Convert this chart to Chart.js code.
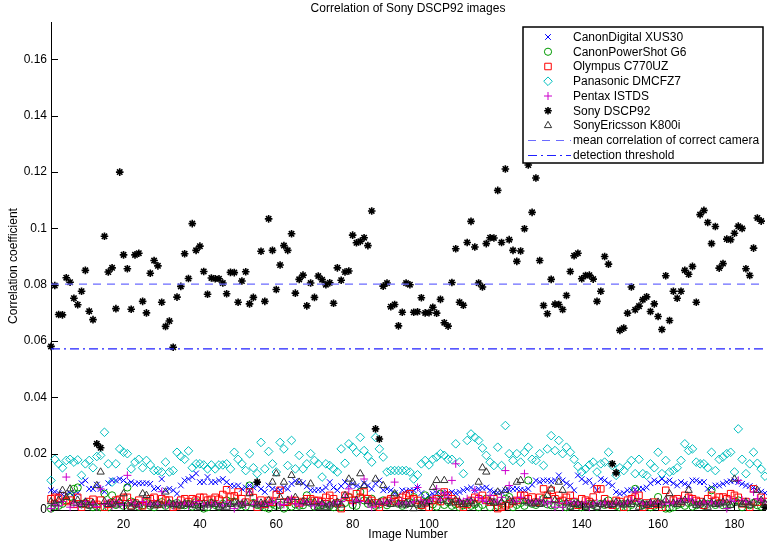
<!DOCTYPE html>
<html>
<head>
<meta charset="utf-8">
<title>Correlation of Sony DSCP92 images</title>
<script src="https://cdn.jsdelivr.net/npm/chart.js@4/dist/chart.umd.min.js"></script>
<style>
  body { margin: 0; background: #fff; }
</style>
</head>
<body>
<canvas id="corrChart" width="767" height="545"></canvas>
<script>
// tick labels
const xTicks = [20, 40, 60, 80, 100, 120, 140, 160, 180];
const yTicks = [0, 0.02, 0.04, 0.06, 0.08, 0.1, 0.12, 0.14, 0.16];

const cameras = ['CanonDigital XUS30', 'CanonPowerShot G6', 'Olympus C770UZ', 'Panasonic DMCFZ7',
                 'Pentax ISTDS', 'Sony DSCP92', 'SonyEricsson K800i'];
const lineLabels = ['mean correlation of correct camera', 'detection threshold'];

const meanCorrect = 0.0802;
const threshold = 0.0572;

// correlation per image (image number = position + 1)
const xus30 = [
  .0070, .0065, .0060, .0055, .0055, .0060, .0058, .0060, .0095, .0105,
  .0075, .0075, .0090, .0075, .0065, .0095, .0105, .0105, .0110, .0105,
  .0093, .0099, .0093, .0095, .0095, .0095, .0093, .0075, .0078, .0110,
  .0070, .0075, .0070, .0058, .0087, .0105, .0110, .0117, .0130, .0099,
  .0099, .0117, .0099, .0099, .0105, .0110, .0099, .0087, .0085, .0087,
  .0075, .0080, .0087, .0080, .0087, .0075, .0064, .0087, .0075, .0072,
  .0070, .0080, .0075, .0093, .0103, .0099, .0095, .0084, .0070, .0070,
  .0072, .0070, .0080, .0099, .0080, .0070, .0085, .0099, .0087, .0093,
  .0085, .0080, .0095, .0087, .0075, .0093, .0105, .0070, .0075, .0070,
  .0060, .0052, .0070, .0068, .0070, .0070, .0080, .0060, .0040, .0050,
  .0058, .0060, .0055, .0058, .0060, .0064, .0060, .0064, .0070, .0075,
  .0080, .0070, .0075, .0078, .0080, .0070, .0064, .0062, .0064, .0070,
  .0072, .0075, .0075, .0072, .0070, .0075, .0090, .0105, .0100, .0105,
  .0105, .0102, .0105, .0123, .0105, .0095, .0087, .0070, .0123, .0110,
  .0099, .0105, .0087, .0070, .0110, .0105, .0095, .0087, .0064, .0058,
  .0060, .0070, .0070, .0072, .0075, .0075, .0080, .0095, .0105, .0099,
  .0110, .0099, .0105, .0095, .0087, .0099, .0093, .0087, .0105, .0105,
  .0099, .0099, .0075, .0080, .0087, .0087, .0093, .0099, .0102, .0105,
  .0099, .0093, .0087, .0085, .0080, .0070, .0065, .0060
];
const powershot = [
  .0005, .0012, .0015, .0022, .0034, .0046, .0075, .0080, .0020, .0025,
  .0017, .0010, .0012, .0010, .0058, .0010, .0052, .0018, .0025, .0015,
  .0080, .0030, .0020, .0012, .0017, .0025, .0015, .0010, .0020, .0028,
  .0015, .0022, .0018, .0025, .0017, .0017, .0022, .0012, .0028, .0020,
  .0005, .0010, .0025, .0018, .0012, .0022, .0034, .0028, .0030, .0015,
  .0020, .0012, .0087, .0025, .0018, .0015, .0010, .0005, .0022, .0015,
  .0018, .0005, .0028, .0012, .0020, .0015, .0017, .0052, .0025, .0012,
  .0018, .0017, .0022, .0015, .0010, .0020, .0010, .0025, .0046, .0018,
  .0015, .0064, .0034, .0022, .0040, .0015, .0020, .0034, .0017, .0025,
  .0052, .0022, .0015, .0020, .0028, .0046, .0020, .0015, .0052, .0034,
  .0020, .0012, .0058, .0018, .0028, .0015, .0020, .0010, .0017, .0025,
  .0015, .0020, .0010, .0018, .0040, .0010, .0028, .0015, .0022, .0040,
  .0046, .0010, .0018, .0025, .0015, .0105, .0022, .0018, .0025, .0040,
  .0020, .0017, .0015, .0028, .0020, .0010, .0015, .0028, .0020, .0010,
  .0015, .0022, .0018, .0012, .0022, .0018, .0034, .0020, .0015, .0010,
  .0022, .0010, .0018, .0075, .0025, .0017, .0020, .0010, .0015, .0046,
  .0020, .0005, .0005, .0010, .0018, .0022, .0015, .0025, .0012, .0017,
  .0020, .0015, .0022, .0070, .0018, .0025, .0017, .0015, .0020, .0028,
  .0034, .0010, .0022, .0017, .0025, .0017, .0012, .0020
];
const olympus = [
  .0040, .0045, .0042, .0050, .0030, .0035, .0020, .0045, .0010, .0022,
  .0030, .0038, .0020, .0035, .0010, .0020, .0025, .0035, .0038, .0045,
  .0045, .0015, .0025, .0035, .0015, .0030, .0040, .0045, .0020, .0040,
  .0035, .0035, .0010, .0015, .0035, .0040, .0030, .0040, .0035, .0045,
  .0045, .0035, .0038, .0045, .0038, .0055, .0072, .0046, .0050, .0064,
  .0040, .0028, .0064, .0044, .0010, .0035, .0020, .0034, .0028, .0055,
  .0070, .0028, .0028, .0034, .0034, .0025, .0030, .0040, .0040, .0034,
  .0034, .0030, .0045, .0052, .0040, .0025, .0005, .0052, .0045, .0034,
  .0058, .0045, .0064, .0040, .0034, .0025, .0010, .0028, .0034, .0040,
  .0030, .0034, .0045, .0052, .0058, .0040, .0034, .0017, .0025, .0010,
  .0034, .0040, .0030, .0064, .0052, .0040, .0030, .0022, .0010, .0020,
  .0034, .0045, .0040, .0052, .0034, .0028, .0040, .0005, .0010, .0015,
  .0022, .0030, .0034, .0052, .0052, .0040, .0046, .0028, .0045, .0075,
  .0052, .0070, .0040, .0052, .0034, .0045, .0052, .0030, .0017, .0040,
  .0035, .0030, .0046, .0075, .0075, .0040, .0020, .0017, .0034, .0030,
  .0010, .0035, .0040, .0046, .0052, .0010, .0025, .0017, .0028, .0020,
  .0010, .0070, .0040, .0035, .0040, .0030, .0052, .0045, .0040, .0034,
  .0030, .0017, .0040, .0052, .0034, .0046, .0046, .0040, .0058, .0052,
  .0045, .0022, .0030, .0010, .0075, .0028, .0045, .0030
];
const panasonic = [
  .0105, .0180, .0164, .0150, .0176, .0180, .0170, .0178, .0123, .0164,
  .0176, .0150, .0190, .0194, .0276, .0164, .0099, .0164, .0217, .0205,
  .0200, .0146, .0170, .0180, .0150, .0176, .0160, .0140, .0140, .0135,
  .0170, .0135, .0140, .0205, .0190, .0180, .0210, .0150, .0164, .0164,
  .0160, .0146, .0160, .0146, .0160, .0160, .0164, .0146, .0205, .0180,
  .0164, .0140, .0200, .0150, .0129, .0240, .0146, .0208, .0164, .0135,
  .0240, .0217, .0158, .0247, .0146, .0194, .0146, .0164, .0200, .0176,
  .0164, .0117, .0164, .0158, .0146, .0135, .0217, .0166, .0235, .0223,
  .0205, .0258, .0211, .0190, .0170, .0258, .0217, .0188, .0135, .0140,
  .0140, .0140, .0140, .0140, .0135, .0110, .0125, .0164, .0176, .0160,
  .0180, .0188, .0200, .0194, .0180, .0180, .0235, .0170, .0129, .0247,
  .0270, .0258, .0247, .0220, .0194, .0170, .0158, .0223, .0158, .0300,
  .0200, .0176, .0200, .0170, .0205, .0223, .0180, .0176, .0200, .0158,
  .0217, .0264, .0211, .0247, .0200, .0223, .0205, .0180, .0155, .0135,
  .0146, .0160, .0170, .0135, .0164, .0170, .0205, .0158, .0123, .0150,
  .0140, .0158, .0176, .0129, .0180, .0129, .0123, .0164, .0150, .0205,
  .0129, .0176, .0135, .0140, .0150, .0176, .0235, .0211, .0217, .0170,
  .0164, .0164, .0150, .0205, .0140, .0180, .0188, .0200, .0205, .0135,
  .0288, .0180, .0129, .0164, .0205, .0166, .0145, .0120
];
const pentax = [
  .0005, .0020, .0015, .0030, .0117, .0010, .0025, .0015, .0020, .0030,
  .0018, .0022, .0012, .0075, .0020, .0025, .0015, .0030, .0020, .0018,
  .0123, .0025, .0020, .0015, .0030, .0022, .0018, .0025, .0020, .0065,
  .0018, .0022, .0015, .0028, .0020, .0025, .0015, .0020, .0030, .0022,
  .0015, .0020, .0018, .0025, .0020, .0015, .0028, .0020, .0005, .0022,
  .0025, .0018, .0064, .0020, .0028, .0015, .0022, .0020, .0030, .0025,
  .0018, .0020, .0035, .0040, .0022, .0018, .0025, .0030, .0020, .0015,
  .0028, .0020, .0022, .0018, .0025, .0020, .0030, .0045, .0075, .0028,
  .0035, .0030, .0110, .0025, .0010, .0022, .0020, .0028, .0025, .0035,
  .0099, .0022, .0028, .0020, .0025, .0030, .0080, .0035, .0025, .0030,
  .0040, .0075, .0035, .0060, .0045, .0105, .0164, .0035, .0030, .0040,
  .0035, .0070, .0045, .0035, .0030, .0052, .0035, .0028, .0045, .0140,
  .0087, .0035, .0030, .0045, .0129, .0035, .0025, .0030, .0035, .0028,
  .0022, .0030, .0010, .0025, .0010, .0028, .0022, .0030, .0025, .0020,
  .0028, .0010, .0022, .0025, .0020, .0028, .0022, .0018, .0025, .0020,
  .0022, .0028, .0035, .0064, .0030, .0025, .0020, .0028, .0022, .0025,
  .0020, .0028, .0022, .0025, .0030, .0035, .0028, .0040, .0035, .0025,
  .0020, .0028, .0022, .0030, .0025, .0020, .0028, .0005, .0035, .0030,
  .0105, .0035, .0030, .0028, .0064, .0040, .0035, .0030
];
const sony = [
  .0581, .0797, .0694, .0693, .0825, .0809, .0752, .0729, .0777, .0851,
  .0706, .0676, .0235, .0221, .0972, .0845, .0860, .0715, .1200, .0906,
  .0857, .0713, .0906, .0912, .0741, .0700, .0841, .0886, .0867, .0738,
  .0652, .0671, .0578, .0756, .0794, .0910, .0822, .1017, .0922, .0937,
  .0847, .0766, .0824, .0821, .0821, .0806, .0768, .0844, .0843, .0738,
  .0813, .0846, .0732, .0755, .0099, .0919, .0741, .1034, .0922, .0783,
  .0870, .0939, .0922, .0981, .0770, .0819, .0834, .0725, .0806, .0755,
  .0831, .0818, .0800, .0807, .0734, .0860, .0816, .0845, .0849, .0976,
  .0949, .0954, .0967, .0939, .1062, .0288, .0252, .0795, .0806, .0722,
  .0730, .0654, .0702, .0806, .0800, .0702, .0704, .0754, .0700, .0701,
  .0720, .0699, .0748, .0665, .0653, .0808, .0928, .0738, .0727, .0950,
  .1025, .0934, .0806, .0792, .0946, .0967, .0966, .1135, .0950, .1211,
  .0960, .0922, .0883, .0920, .0999, .1225, .1057, .1179, .0886, .0726,
  .0697, .0819, .0731, .0730, .0712, .0762, .0847, .0903, .0912, .0821,
  .0833, .0834, .0820, .0741, .0777, .0900, .0873, .0164, .0132, .0638,
  .0646, .0699, .0792, .0711, .0724, .0747, .0757, .0705, .0732, .0687,
  .0641, .0832, .0673, .0777, .0752, .0777, .0851, .0837, .0865, .0738,
  .1049, .1064, .1021, .0946, .1007, .0859, .0875, .0962, .0960, .0983,
  .1008, .1000, .0857, .0833, .0930, .1037, .1026, .0010
];
const k800i = [
  .0030, .0022, .0035, .0070, .0045, .0075, .0025, .0035, .0020, .0028,
  .0015, .0025, .0087, .0135, .0030, .0020, .0025, .0018, .0030, .0058,
  .0022, .0010, .0025, .0018, .0058, .0052, .0020, .0015, .0022, .0018,
  .0064, .0025, .0020, .0018, .0015, .0022, .0020, .0018, .0015, .0010,
  .0022, .0018, .0025, .0020, .0010, .0015, .0010, .0020, .0028, .0022,
  .0018, .0025, .0058, .0022, .0018, .0025, .0020, .0035, .0099, .0129,
  .0045, .0099, .0035, .0123, .0045, .0099, .0030, .0025, .0093, .0028,
  .0010, .0022, .0010, .0018, .0022, .0028, .0018, .0052, .0110, .0099,
  .0035, .0129, .0087, .0030, .0025, .0110, .0028, .0087, .0025, .0020,
  .0058, .0022, .0018, .0025, .0020, .0005, .0022, .0018, .0025, .0030,
  .0080, .0105, .0035, .0105, .0030, .0025, .0035, .0028, .0020, .0025,
  .0030, .0022, .0099, .0150, .0135, .0030, .0025, .0064, .0028, .0070,
  .0035, .0028, .0099, .0105, .0030, .0025, .0022, .0028, .0020, .0025,
  .0052, .0075, .0035, .0099, .0070, .0025, .0010, .0020, .0022, .0017,
  .0010, .0018, .0022, .0010, .0020, .0025, .0017, .0020, .0028, .0022,
  .0018, .0025, .0020, .0028, .0010, .0022, .0017, .0025, .0020, .0028,
  .0022, .0035, .0058, .0025, .0020, .0028, .0035, .0070, .0025, .0017,
  .0022, .0028, .0010, .0025, .0020, .0022, .0028, .0025, .0017, .0110,
  .0025, .0020, .0028, .0017, .0025, .0070, .0035, .0022
];

const seriesValues = [xus30, powershot, olympus, panasonic, pentax, sony, k800i];
const markerStyles = [
  { pointStyle: 'crossRot', radius: 4, color: '#0000ff', width: 1 },
  { pointStyle: 'circle', radius: 3.6, color: '#009a00', width: 1 },
  { pointStyle: 'rect', radius: 4.6, color: '#ff0000', width: 1 },
  { pointStyle: 'rectRot', radius: 4.3, color: '#00bfbf', width: 1 },
  { pointStyle: 'cross', radius: 4, color: '#cc00cc', width: 1 },
  { pointStyle: 'star', radius: 3.8, color: '#000000', width: 1.6 },
  { pointStyle: 'triangle', radius: 4.2, color: '#333333', width: 1 }
];
const lineStyles = [
  { color: '#6b6bff', dash: [8, 6] },
  { color: '#2020ff', dash: [9, 4, 2, 4] }
];

const imageCount = sony.length;
const toPoints = vals => vals.map((v, i) => ({ x: i + 1, y: v }));

const datasets = seriesValues.map((vals, i) => ({
  type: 'scatter',
  label: cameras[i],
  data: toPoints(vals),
  pointStyle: markerStyles[i].pointStyle,
  pointRadius: markerStyles[i].radius,
  pointBorderWidth: markerStyles[i].width,
  borderColor: markerStyles[i].color,
  backgroundColor: 'rgba(0,0,0,0)',
  order: 10 - i,
  clip: false
}));

[meanCorrect, threshold].forEach((level, i) => {
  datasets.push({
    type: 'line',
    label: lineLabels[i],
    data: [{ x: 1, y: level }, { x: imageCount, y: level }],
    borderColor: lineStyles[i].color,
    borderDash: lineStyles[i].dash,
    borderWidth: 1.2,
    pointRadius: 0,
    order: 0
  });
});

Chart.defaults.font.family = "'Liberation Sans', Arial, Helvetica, sans-serif";
Chart.defaults.font.size = 12;
Chart.defaults.color = '#000';

// MATLAB-like frame: inward ticks, titles and the boxed legend
const matlabFrame = {
  id: 'matlabFrame',
  beforeDraw(chart) {
    const ctx = chart.ctx;
    ctx.save();
    ctx.fillStyle = '#fff';
    ctx.fillRect(0, 0, chart.width, chart.height);
    ctx.restore();
  },
  afterDraw(chart) {
    const ctx = chart.ctx;
    const area = chart.chartArea;
    const xs = chart.scales.x, ys = chart.scales.y;
    ctx.save();

    ctx.strokeStyle = '#000';
    ctx.lineWidth = 1;
    ctx.beginPath();
    yTicks.forEach(v => {
      const y = Math.round(ys.getPixelForValue(v)) + 0.5;
      ctx.moveTo(area.left, y);
      ctx.lineTo(area.left + 7, y);
    });
    xTicks.forEach(v => {
      const x = Math.round(xs.getPixelForValue(v)) + 0.5;
      ctx.moveTo(x, area.bottom);
      ctx.lineTo(x, area.bottom - 7);
    });
    ctx.stroke();

    ctx.fillStyle = '#000';
    ctx.font = "12px 'Liberation Sans', Arial, sans-serif";
    ctx.textAlign = 'center';
    ctx.textBaseline = 'middle';
    const midX = (area.left + area.right) / 2;
    ctx.fillText('Correlation of Sony DSCP92 images', midX, 9);
    ctx.fillText('Image Number', midX, 535);
    ctx.save();
    ctx.translate(14, (area.top + area.bottom) / 2);
    ctx.rotate(-Math.PI / 2);
    ctx.fillText('Correlation coefficient', 0, 0);
    ctx.restore();

    // legend
    const bw = 240, bh = 136;
    const bx = area.right - 2 - bw, by = area.top + 5;
    ctx.fillStyle = '#fff';
    ctx.fillRect(bx, by, bw, bh);
    ctx.lineWidth = 1.5;
    ctx.strokeStyle = '#000';
    ctx.strokeRect(bx, by, bw, bh);

    const rowH = 14.75;
    ctx.textAlign = 'left';
    cameras.forEach((name, i) => {
      const y = by + 10 + i * rowH;
      const st = markerStyles[i];
      ctx.strokeStyle = st.color;
      ctx.fillStyle = 'rgba(0,0,0,0)';
      ctx.lineWidth = st.width;
      Chart.helpers.drawPoint(ctx, { pointStyle: st.pointStyle, radius: st.radius, borderWidth: st.width, rotation: 0 }, bx + 25, y);
      ctx.fillStyle = '#000';
      ctx.fillText(name, bx + 50, y + 0.5);
    });
    lineLabels.forEach((name, i) => {
      const y = Math.round(by + 10 + (cameras.length + i) * rowH) + 0.5;
      ctx.strokeStyle = lineStyles[i].color;
      ctx.lineWidth = 1.2;
      ctx.setLineDash(lineStyles[i].dash);
      ctx.beginPath();
      ctx.moveTo(bx + 5, y);
      ctx.lineTo(bx + 48, y);
      ctx.stroke();
      ctx.setLineDash([]);
      ctx.fillStyle = '#000';
      ctx.fillText(name, bx + 50, y);
    });

    ctx.restore();
  }
};

new Chart(document.getElementById('corrChart'), {
  type: 'scatter',
  data: { datasets: datasets },
  options: {
    responsive: false,
    animation: false,
    layout: { autoPadding: false, padding: { top: 22, right: 2, left: 0, bottom: 0 } },
    plugins: {
      legend: { display: false },
      tooltip: { enabled: false },
      title: { display: false }
    },
    scales: {
      x: {
        type: 'linear',
        min: 1,
        max: imageCount,
        afterBuildTicks: scale => { scale.ticks = xTicks.map(v => ({ value: v })); },
        afterFit: scale => {
          scale.height = 35;
          scale.paddingLeft = 0;
          scale.paddingRight = 0;
        },
        ticks: { padding: 7, color: '#000', callback: v => String(v) },
        grid: { display: false, drawTicks: false },
        border: { display: true, color: '#000', width: 1 }
      },
      y: {
        type: 'linear',
        min: 0,
        max: 0.1733,
        afterBuildTicks: scale => { scale.ticks = yTicks.map(v => ({ value: v })); },
        afterFit: scale => {
          scale.width = 51;
          scale.paddingTop = 0;
          scale.paddingBottom = 0;
        },
        ticks: { padding: 4, color: '#000', callback: v => String(+v.toFixed(2)) },
        grid: { display: false, drawTicks: false },
        border: { display: true, color: '#000', width: 1 }
      }
    }
  },
  plugins: [matlabFrame]
});
</script>
</body>
</html>
